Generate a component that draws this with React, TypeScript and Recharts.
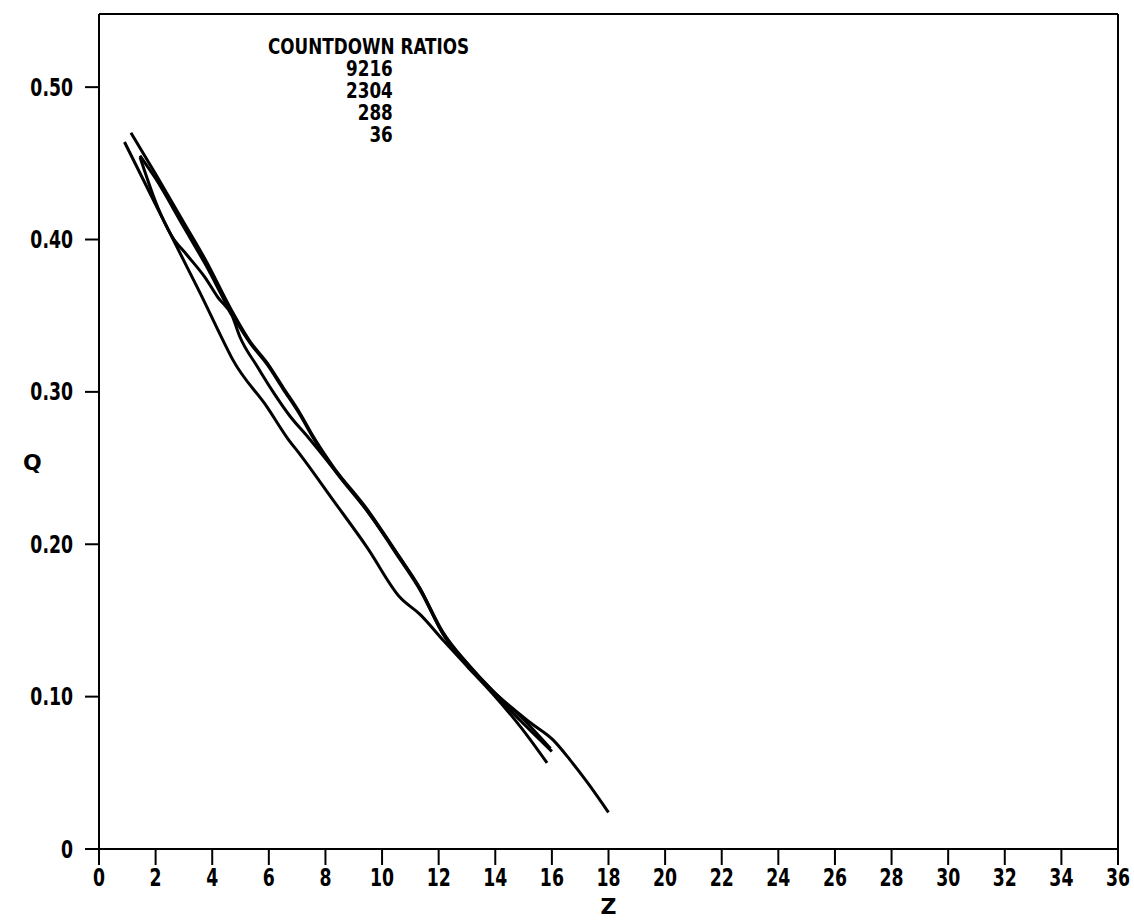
import { LineChart, Line, XAxis, YAxis, ReferenceLine, Label } from 'recharts';

const xTicks = [0, 2, 4, 6, 8, 10, 12, 14, 16, 18, 20, 22, 24, 26, 28, 30, 32, 34, 36];
const yTicks = [0, 0.1, 0.2, 0.3, 0.4, 0.5];
const legendTitle = 'COUNTDOWN RATIOS';
const ratios = ['9216', '2304', '288', '36'];

// ratio 9216
const z9216 = [1.13, 2, 3, 3.75, 4.7, 5.34, 5.94, 6.5, 7.1, 7.56, 8.27, 9.47, 10.6, 11.34, 12.16, 13, 13.9, 15.23, 16.04, 16.64, 17.24, 18];
const q9216 = [0.47, 0.443, 0.411, 0.387, 0.353, 0.333, 0.319, 0.303, 0.286, 0.271, 0.251, 0.223, 0.192, 0.171, 0.142, 0.122, 0.104, 0.083, 0.0716, 0.0585, 0.044, 0.024];
// ratio 2304
const z2304 = [1.45, 2, 3, 3.75, 4.7, 5.34, 5.94, 6.5, 7.1, 7.56, 8.27, 9.47, 10.6, 11.34, 12.16, 13, 13.9, 15, 15.95];
const q2304 = [0.455, 0.44, 0.408, 0.384, 0.351, 0.332, 0.318, 0.302, 0.285, 0.27, 0.25, 0.222, 0.192, 0.171, 0.141, 0.122, 0.104, 0.085, 0.066];
// ratio 288
const z288 = [1.45, 2.08, 2.58, 3.1, 3.75, 4.2, 4.7, 4.98, 5.58, 6.15, 6.75, 7.35, 8.27, 9.47, 10.6, 11.34, 12.16, 13, 13.9, 14.9, 16];
const q288 = [0.454, 0.421, 0.402, 0.39, 0.375, 0.362, 0.35, 0.336, 0.317, 0.3, 0.284, 0.271, 0.25, 0.222, 0.191, 0.17, 0.141, 0.121, 0.103, 0.084, 0.064];
// ratio 36
const z36 = [0.9, 2, 3, 3.57, 4.35, 4.73, 5.94, 6.68, 7.1, 8.27, 9.47, 10.64, 11.34, 12.16, 13, 13.9, 14.9, 15.83];
const q36 = [0.464, 0.423, 0.386, 0.365, 0.335, 0.321, 0.29, 0.269, 0.259, 0.229, 0.198, 0.165, 0.154, 0.137, 0.12, 0.102, 0.08, 0.0565];

const toPoints = (z: number[], q: number[]) => z.map((v, i) => ({ z: v, q: q[i] }));

const series = [
  { name: '9216', data: toPoints(z9216, q9216) },
  { name: '2304', data: toPoints(z2304, q2304) },
  { name: '288', data: toPoints(z288, q288) },
  { name: '36', data: toPoints(z36, q36) },
];

const font = "'DejaVu Sans', sans-serif";
const squeeze = 0.72;
const labelStyle = { fontSize: 22, fill: '#000', fontFamily: font, fontWeight: 700 };

const fmtY = (v: number) => (v === 0 ? '0' : v.toFixed(2));

// narrow plotter-style tick text
function XTick(props: any) {
  const { x, y, payload } = props;
  return (
    <g transform={`translate(${x},${y}) scale(${squeeze},1)`}>
      <text x={0} y={0} dy="0.71em" textAnchor="middle" fontFamily={font} fontWeight={700} fontSize={24} fill="#000">
        {payload.value}
      </text>
    </g>
  );
}

function YTick(props: any) {
  const { x, y, payload } = props;
  return (
    <g transform={`translate(${x},${y}) scale(${squeeze},1)`}>
      <text x={0} y={0} dy="0.355em" textAnchor="end" fontFamily={font} fontWeight={700} fontSize={24} fill="#000">
        {fmtY(payload.value)}
      </text>
    </g>
  );
}

export default function App() {
  return (
    <div style={{ position: 'absolute', left: 0, top: 0, width: 1134, height: 920, background: '#fff' }}>
      <LineChart width={1134} height={920} margin={{ top: 14, right: 16, bottom: 0, left: 0 }}>
        <XAxis
          type="number"
          dataKey="z"
          domain={[0, 36]}
          ticks={xTicks}
          allowDataOverflow
          height={71}
          tick={<XTick />}
          tickSize={16}
          tickMargin={4}
          stroke="#000"
          strokeWidth={2}
        >
          <Label value="Z" position="insideBottom" offset={6} style={labelStyle} />
        </XAxis>
        <YAxis
          type="number"
          dataKey="q"
          domain={[0, 0.548]}
          ticks={yTicks}
          allowDataOverflow
          width={99}
          tick={<YTick />}
          tickSize={14}
          tickMargin={12}
          stroke="#000"
          strokeWidth={2}
        >
          <Label value="Q" position="insideLeft" offset={23} dy={31} style={labelStyle} />
        </YAxis>
        <ReferenceLine y={0.548} stroke="#000" strokeWidth={2} />
        <ReferenceLine x={36} stroke="#000" strokeWidth={2} />
        {series.map((s) => (
          <Line
            key={s.name}
            data={s.data}
            dataKey="q"
            type="monotone"
            stroke="#000"
            strokeWidth={3}
            dot={false}
            isAnimationActive={false}
          />
        ))}
      </LineChart>
      <div
        style={{
          position: 'absolute',
          left: 268,
          top: 36,
          fontFamily: font,
          fontWeight: 700,
          fontSize: 21,
          lineHeight: '22px',
          color: '#000',
          transform: 'scaleX(0.8)',
          transformOrigin: 'left top',
        }}
      >
        <div style={{ whiteSpace: 'nowrap' }}>{legendTitle}</div>
        {ratios.map((r) => (
          <div key={r} style={{ width: 156, textAlign: 'right' }}>
            {r}
          </div>
        ))}
      </div>
    </div>
  );
}
